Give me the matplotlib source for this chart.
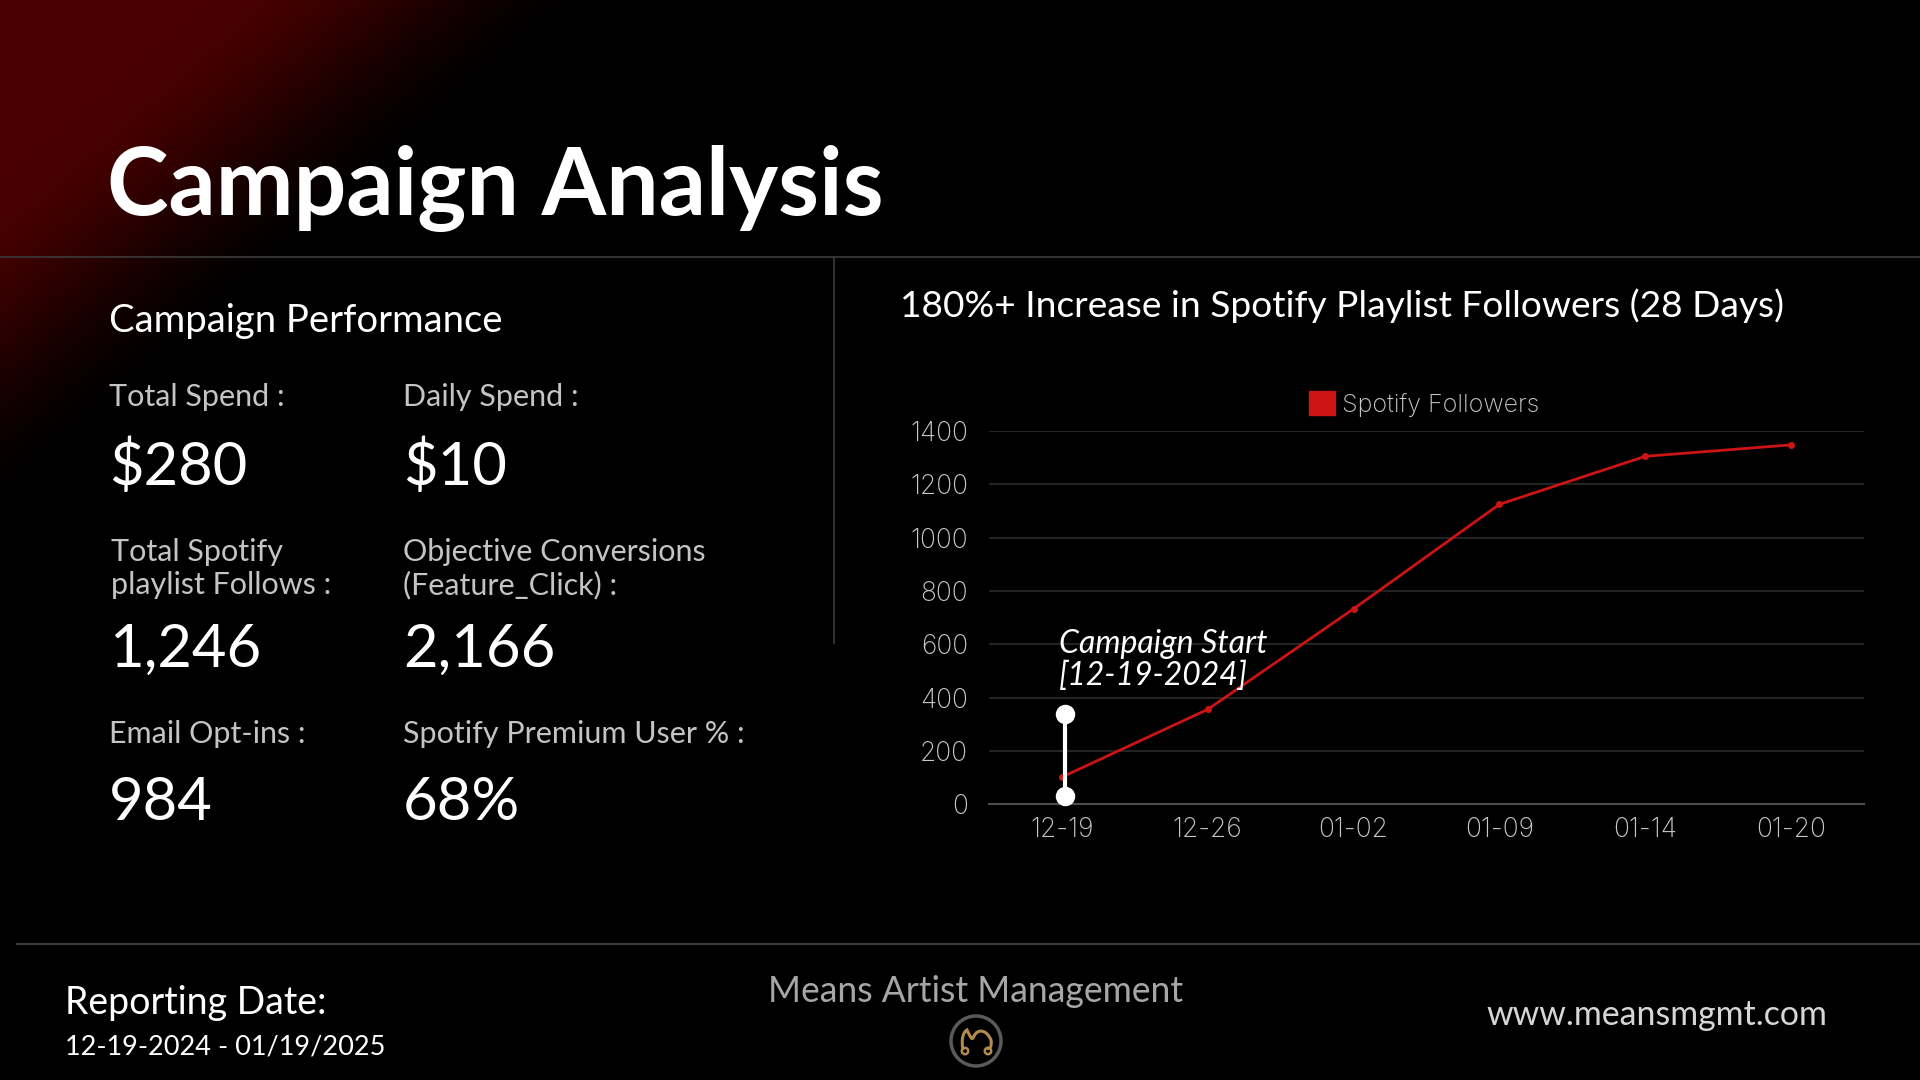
import numpy as np
import matplotlib
matplotlib.use("Agg")
import matplotlib.pyplot as plt
from matplotlib.patches import Patch, Circle
from matplotlib.path import Path
from matplotlib.patches import PathPatch

# ---------------- data ----------------
dates = ["12-19", "12-26", "01-02", "01-09", "01-14", "01-20"]
followers = [102, 356, 733, 1125, 1305, 1348]
y_ticks = [0, 200, 400, 600, 800, 1000, 1200, 1400]
start_marker = [30, 340]

metric_labels = ["Total Spend :", "Daily Spend :",
                 "Total Spotify\nplaylist Follows :", "Objective Conversions\n(Feature_Click) :",
                 "Email Opt-ins :", "Spotify Premium User % :"]
metric_values = ["$280", "$10", "1,246", "2,166", "984", "68%"]

W, H = 1920, 1080
BODY = ["Lato", "DejaVu Sans"]
CHART = ["Inter", "DejaVu Sans"]
RED = "#cc1414"

fig = plt.figure(figsize=(W / 100, H / 100), dpi=100)
fig.patch.set_facecolor("black")

# background with red corner gradient
bg = fig.add_axes([0, 0, 1, 1])
bg.set_axis_off()
xx, yy = np.meshgrid(np.arange(W), np.arange(H))
t = xx / 600.0 + yy / 520.0
s = np.clip((t - 0.35) / (1.0 - 0.35), 0, 1)
inten = 1 - (s * s * (3 - 2 * s))
img = np.zeros((H, W, 3))
img[..., 0] = inten * 0x4a / 255.0
bg.imshow(img, extent=[0, W, H, 0], aspect="auto", interpolation="bilinear")
bg.set_xlim(0, W)
bg.set_ylim(H, 0)

# separator lines
bg.plot([0, W], [257, 257], color="#3c3c3c", lw=1.2)
bg.plot([834, 834], [257, 643], color="#3c3c3c", lw=1.2)
bg.plot([17, W], [944, 944], color="#3c3c3c", lw=1.5)


def T(x, y, s, **kw):
    kw.setdefault("family", BODY)
    kw.setdefault("va", "baseline")
    return fig.text(x / W, 1 - y / H, s, **kw)


# title
T(107, 215, "Campaign Analysis", fontsize=67, weight="bold", color="white")
T(109, 332, "Campaign Performance", fontsize=27.5, color="white")

# metrics
cols = [109, 403]
label_base = [406, 561, 743]
value_base = [485, 667, 820]
for i, (lab, val) in enumerate(zip(metric_labels, metric_values)):
    r, c = divmod(i, 2)
    lines = lab.split("\n")
    for k, ln in enumerate(lines):
        T(cols[c] + (2 if (r == 1 and c == 0) else 0), label_base[r] + 33 * k, ln,
          fontsize=22, color="#c4c4c4")
    T(cols[c], value_base[r], val, fontsize=43, color="white")

# footer
T(65, 1014, "Reporting Date:", fontsize=27, color="white")
T(65, 1055, "12-19-2024 - 01/19/2025", fontsize=19.5, color="white")
T(976, 1002, "Means Artist Management", fontsize=25.6, color="#a6a6a6", ha="center")
T(1827, 1025, "www.meansmgmt.com", fontsize=24.4, color="#d6d6d6", ha="right")

# logo
bg.add_patch(Circle((976, 1041), 25, fill=False, ec="#5a5a5a", lw=2.5))
verts = [(963, 1050), (961, 1040), (963, 1032), (967, 1030),
         (970, 1036), (972, 1042), (974, 1036),
         (978, 1028), (987, 1030), (991, 1040),
         (992, 1046), (990, 1050), (987, 1048)]
codes = [Path.MOVETO] + [Path.CURVE4] * 12
bg.add_patch(PathPatch(Path(verts, codes), fill=False, ec="#b38b4d", lw=2.2))
bg.add_patch(Circle((965, 1051), 3.2, fill=False, ec="#b38b4d", lw=1.8))
bg.add_patch(Circle((988, 1051), 3.2, fill=False, ec="#b38b4d", lw=1.8))

# chart title
T(900, 317, "180%+ Increase in Spotify Playlist Followers (28 Days)", fontsize=26.7, color="white")

# annotation
T(1059, 653, "Campaign Start", fontsize=23, style="italic", color="white")
T(1059, 685, "[12-19-2024]", fontsize=23, style="italic", color="white")

# ---------------- chart ----------------
ax = fig.add_axes([989 / W, 1 - 804.3 / H, 875 / W, 373.3 / H])
ax.set_facecolor("none")
x = np.arange(len(dates))
ax.plot(x, followers, color=RED, lw=2.0, marker="o", ms=4, zorder=3, clip_on=False)
ax.plot([x[0] + 0.02] * 2, start_marker, color="white", lw=3, marker="o", ms=13,
        solid_capstyle="round", zorder=4, clip_on=False)

ax.set_xlim(-0.5, len(dates) - 0.5)
ax.set_ylim(0, 1400)
ax.set_yticks(y_ticks)
ax.set_xticks(x)
ax.set_xticklabels(dates)
ax.grid(axis="y", color="#2b2b2b", lw=1.2)
ax.set_axisbelow(True)
for sp in ["top", "right", "left"]:
    ax.spines[sp].set_visible(False)
ax.spines["bottom"].set_color("#4a4a4a")
ax.spines["bottom"].set_linewidth(1.5)
ax.tick_params(axis="both", length=0, colors="#c8c8c8", labelsize=19)
ax.tick_params(axis="x", pad=9)
ax.tick_params(axis="y", pad=15)
for lab in ax.get_xticklabels() + ax.get_yticklabels():
    lab.set_family(CHART)
    lab.set_fontweight("light")

leg = ax.legend(handles=[Patch(facecolor=RED, edgecolor=RED, label="Spotify Followers")],
                loc="center", bbox_to_anchor=(1424 / W, 1 - 404 / H),
                bbox_transform=fig.transFigure, frameon=False,
                handlelength=1.05, handleheight=1.1, handletextpad=0.3,
                prop={"family": CHART, "size": 18, "weight": "light"})
for txt in leg.get_texts():
    txt.set_color("#c8c8c8")

fig.savefig("out.png", dpi=100, facecolor="black")
